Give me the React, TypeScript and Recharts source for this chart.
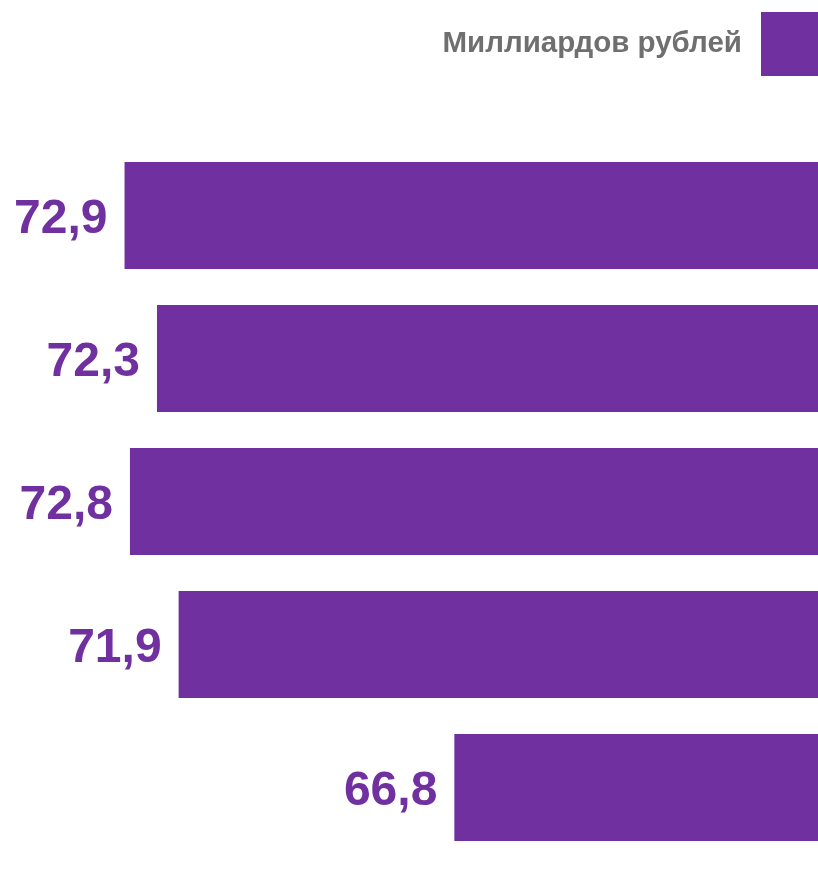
import React from 'react';
import { BarChart, Bar, XAxis, YAxis, Legend, LabelList } from 'recharts';

const categories = ['1', '2', '3', '4', '5'];
const values = [72.9, 72.3, 72.8, 71.9, 66.8];
const seriesName = 'Миллиардов рублей';

const data = categories.map((c, i) => ({ category: c, value: values[i] }));

const PURPLE = '#7030A0';
const GRAY = '#6F6F6F';
const FONT = '"Liberation Sans", Arial, sans-serif';

const fmt = (v: number) => Number(v).toFixed(1).replace('.', ',');

const renderLabel = (props: any) => {
  const x = Number(props.x);
  const w = Number(props.width);
  const y = Number(props.y);
  const h = Number(props.height);
  const left = Math.min(x, x + w);
  return (
    <text
      x={left - 17}
      y={y + h / 2 + 17.5}
      textAnchor="end"
      fill={PURPLE}
      fontSize={48}
      fontWeight={700}
      fontFamily={FONT}
    >
      {fmt(props.value)}
    </text>
  );
};

const LegendContent = () => (
  <div
    style={{
      display: 'flex',
      justifyContent: 'flex-end',
      alignItems: 'center',
      fontFamily: FONT,
      width: 420,
    }}
  >
    <span
      style={{
        fontSize: 29.5,
        fontWeight: 700,
        color: GRAY,
        marginRight: 19,
        position: 'relative',
        top: -2,
        whiteSpace: 'nowrap',
        flexShrink: 0,
      }}
    >
      {seriesName}
    </span>
    <span
      style={{
        display: 'block',
        width: 64,
        height: 64,
        background: PURPLE,
        flexShrink: 0,
      }}
    />
  </div>
);

export default function App() {
  return (
    <div style={{ position: 'fixed', left: 0, top: 0, width: 822, height: 884 }}>
      <BarChart
        width={822}
        height={870}
        data={data}
        layout="vertical"
        margin={{ top: 80, right: 0, bottom: 11, left: 11 }}
      >
        <XAxis type="number" domain={[60, 75]} reversed hide allowDataOverflow />
        <YAxis type="category" dataKey="category" hide />
        <Legend
          verticalAlign="top"
          align="right"
          content={<LegendContent />}
          wrapperStyle={{ top: 12, right: -3, left: 'auto', width: 420 }}
        />
        <Bar
          dataKey="value"
          name={seriesName}
          fill={PURPLE}
          barSize={107}
          isAnimationActive={false}
        >
          <LabelList dataKey="value" content={renderLabel} />
        </Bar>
      </BarChart>
    </div>
  );
}
